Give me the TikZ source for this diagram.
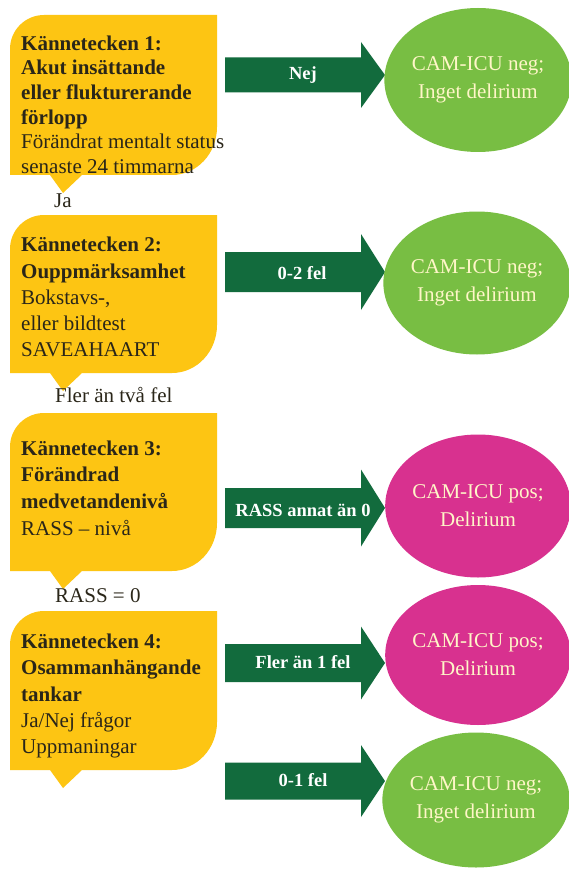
\documentclass[tikz,border=0pt]{standalone}
\usepackage{fontspec}
\setmainfont{Liberation Serif}
\usetikzlibrary{shapes.geometric}
\definecolor{cyel}{HTML}{FDC513}
\definecolor{cdkg}{HTML}{126B3D}
\definecolor{cltg}{HTML}{78BE43}
\definecolor{cmag}{HTML}{D8318F}
\definecolor{ctxt}{HTML}{2A2619}
\definecolor{ccream}{HTML}{FFF6C8}
% yellow speech box: #1 top, #2 bottom
\newcommand\ybox[2]{%
  \fill[cyel] (10,#2) -- (10,#1+34) .. controls (10,#1+15.2) and (25.2,#1) .. (44,#1)
    -- (217,#1) -- (217,#2-48) .. controls (217,#2-21.5) and (196.9,#2) .. (172,#2)
    -- (82,#2) -- (63,#2+18) -- (50,#2) -- cycle;}
% green arrow: #1 centre y, #2 half body, #3 half head
\newcommand\garrow[3]{%
  \fill[cdkg] (225,#1-#2) -- (361,#1-#2) -- (361,#1-#3) -- (385,#1)
    -- (361,#1+#3) -- (361,#1+#2) -- (225,#1+#2) -- cycle;}
\tikzset{
  boxtext/.style={anchor=north west, align=left, inner sep=0pt, text=ctxt},
  lbl/.style={anchor=base west, inner sep=0pt, text=ctxt, font=\fontsize{21}{24}\selectfont},
  arrtext/.style={inner sep=0pt, text=white, font=\fontsize{18.5}{22}\bfseries},
  result/.style={ellipse, inner sep=0pt, text=ccream, align=center,
    font=\fontsize{21}{28}\selectfont},
  negres/.style={result, fill=cltg},
  posres/.style={result, fill=cmag}
}
\begin{document}
\begin{tikzpicture}[x=1pt,y=-1pt]
\useasboundingbox (0,0) rectangle (569,869);
\fill[white] (0,0) rectangle (569,869);
% yellow boxes
\ybox{15}{175}
\ybox{215}{373}
\ybox{413}{571}
\ybox{611}{770}
% box texts
\node[boxtext, font=\fontsize{21}{24.6}\selectfont] (k1) at (21,35.5)
  {\textbf{Kännetecken 1:}\\\textbf{Akut insättande}\\\textbf{eller flukturerande}\\\textbf{förlopp}\\Förändrat mentalt status\\senaste 24 timmarna};
\node[boxtext, font=\fontsize{21}{26.2}\selectfont] (k2) at (21,237.2)
  {\textbf{Kännetecken 2:}\\\textbf{Ouppmärksamhet}\\Bokstavs-,\\eller bildtest\\SAVEAHAART};
\node[boxtext, font=\fontsize{21}{26.7}\selectfont] (k3) at (21,440.5)
  {\textbf{Kännetecken 3:}\\\textbf{Förändrad}\\\textbf{medvetandenivå}\\RASS -- nivå};
\node[boxtext, font=\fontsize{21}{26.3}\selectfont] (k4) at (21,633.8)
  {\textbf{Kännetecken 4:}\\\textbf{Osammanhängande}\\\textbf{tankar}\\Ja/Nej frågor\\Uppmaningar};
% labels between boxes
\node[lbl] (ja) at (54,207) {Ja};
\node[lbl] (fler2) at (55,402) {Fler än två fel};
\node[lbl] (rass0) at (55,602) {RASS = 0};
% arrows
\garrow{75}{17.5}{33}
\garrow{272}{20}{38}
\garrow{508}{20}{38.5}
\garrow{663}{19}{36.5}
\garrow{781}{18.5}{36}
\node[arrtext] (a1) at (303,75) {Nej};
\node[arrtext] (a2) at (302,273) {0-2 fel};
\node[arrtext] (a3) at (303,510) {RASS annat än 0};
\node[arrtext] (a4) at (303,662) {Fler än 1 fel};
\node[arrtext] (a5) at (303,780) {0-1 fel};
% result ellipses
\node[negres, minimum width=182pt, minimum height=144pt] (r1) at (478,80) {CAM-ICU neg;\\Inget delirium};
\node[negres, minimum width=184pt, minimum height=143pt] (r2) at (477,283) {CAM-ICU neg;\\Inget delirium};
\node[posres, minimum width=182pt, minimum height=143pt] (r3) at (478,506) {CAM-ICU pos;\\Delirium};
\node[posres, minimum width=182pt, minimum height=140pt] (r4) at (478,655) {CAM-ICU pos;\\Delirium};
\node[negres, minimum width=186pt, minimum height=135pt] (r5) at (476,800) {CAM-ICU neg;\\Inget delirium};
\end{tikzpicture}
\end{document}
